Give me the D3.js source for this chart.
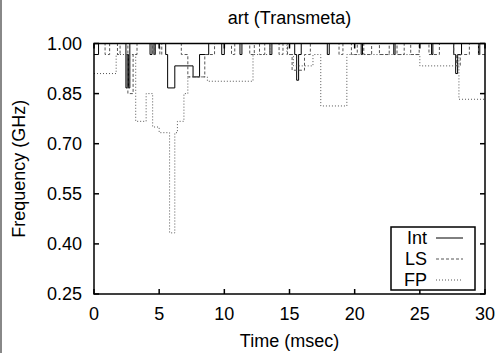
<!DOCTYPE html>
<html>
<head>
<meta charset="utf-8">
<script src="https://cdn.jsdelivr.net/npm/d3@7"></script>
<style>
  body { margin: 0; background: #fff; }
  svg { display: block; font-family: "Liberation Sans", Arial, sans-serif; }
</style>
</head>
<body>
<script>
// step data: [time (msec), frequency (GHz)]
const intSeries = [[0,0.967],[0.35,1.0],[2.45,0.867],[2.55,0.967],[2.65,0.867],[2.75,1.0],[4.3,0.967],[4.45,1.0],[4.6,0.967],[4.7,1.0],[5.5,0.967],[5.65,0.867],[6.2,0.933],[7.6,0.9],[8.1,0.967],[8.8,1.0],[9.8,0.967],[10.0,1.0],[11.2,0.967],[11.35,1.0],[13.5,0.967],[13.65,1.0],[15.4,0.967],[15.55,0.89],[15.7,0.967],[15.9,1.0],[17.9,0.967],[18.05,1.0],[20.5,0.967],[20.6,1.0],[23.0,0.967],[23.1,1.0],[25.9,0.967],[26.0,1.0],[27.6,0.967],[27.75,0.91],[27.9,0.967],[28.2,1.0],[29.5,0.967],[29.6,1.0],[30,1.0]];
const lsSeries = [[0,1.0],[0.85,0.967],[1.2,1.0],[1.8,0.967],[2.0,1.0],[2.6,0.85],[3.0,0.967],[3.3,1.0],[4.5,0.967],[4.65,1.0],[5.05,0.967],[5.2,1.0],[6.7,0.967],[7.2,0.9],[8.5,0.967],[9.25,1.0],[10.55,0.967],[10.8,1.0],[11.95,0.967],[12.3,1.0],[12.7,0.967],[13.1,1.0],[14.2,0.967],[14.5,1.0],[14.85,0.967],[15.2,0.92],[16.15,0.967],[16.6,1.0],[18.8,0.967],[19.1,1.0],[19.75,0.967],[20.2,1.0],[20.7,0.967],[21.3,1.0],[21.9,0.967],[22.65,1.0],[23.25,0.967],[23.8,1.0],[24.3,0.967],[24.95,1.0],[25.7,0.967],[26.5,1.0],[27.6,0.967],[27.8,0.933],[28.1,0.967],[28.8,1.0],[29.5,0.967],[30,0.967]];
const fpSeries = [[0,0.91],[1.7,0.967],[3.2,0.767],[4.0,0.85],[4.5,0.75],[5.0,0.733],[5.8,0.433],[6.2,0.733],[6.4,0.767],[6.9,0.85],[7.2,0.9],[8.1,0.9],[8.7,0.887],[12.2,0.967],[13.5,1.0],[14.8,0.967],[15.3,0.933],[16.8,0.967],[17.4,0.813],[19.4,0.967],[20.2,0.967],[25.0,0.933],[27.9,0.967],[28.0,0.833],[30,0.833]];

const xTicks = [0, 5, 10, 15, 20, 25, 30];
const yTicks = [0.25, 0.40, 0.55, 0.70, 0.85, 1.00];
const seriesNames = ["Int", "LS", "FP"];
const dashes = [null, "3,2", "1,2"];
const strokes = ["#000", "#555", "#555"];

const W = 496, H = 353;
const margin = {top: 43.5, right: 11, bottom: 59, left: 94};
const width = W - margin.left - margin.right;
const height = H - margin.top - margin.bottom;

const svg = d3.select("body").append("svg")
    .attr("width", W)
    .attr("height", H);

// grey edge on the left of the picture
svg.append("rect").attr("x", 0).attr("y", 0).attr("width", 2).attr("height", H).attr("fill", "#888");

const g = svg.append("g")
    .attr("transform", "translate(" + margin.left + "," + margin.top + ")");

const x = d3.scaleLinear().domain([0, 30]).range([0, width]);
const y = d3.scaleLinear().domain([0.25, 1.0]).range([height, 0]);

const line = d3.line()
    .x(d => x(d[0]))
    .y(d => y(d[1]))
    .curve(d3.curveStepAfter);

// series
[intSeries, lsSeries, fpSeries].forEach((s, i) => {
    g.append("path")
        .attr("d", line(s))
        .attr("fill", "none")
        .attr("stroke", strokes[i])
        .attr("stroke-width", 1)
        .attr("stroke-dasharray", dashes[i]);
});

// inward ticks on all four sides
const tickLen = 5;
xTicks.forEach(t => {
    g.append("line").attr("x1", x(t)).attr("x2", x(t)).attr("y1", height).attr("y2", height - tickLen)
        .attr("stroke", "#000").attr("stroke-width", 1.5);
    g.append("line").attr("x1", x(t)).attr("x2", x(t)).attr("y1", 0).attr("y2", tickLen)
        .attr("stroke", "#000").attr("stroke-width", 1.5);
    g.append("text").attr("x", x(t)).attr("y", height + 26)
        .attr("text-anchor", "middle").attr("font-size", 18).text(t);
});
yTicks.forEach(t => {
    g.append("line").attr("x1", 0).attr("x2", tickLen).attr("y1", y(t)).attr("y2", y(t))
        .attr("stroke", "#000").attr("stroke-width", 1.5);
    g.append("line").attr("x1", width).attr("x2", width - tickLen).attr("y1", y(t)).attr("y2", y(t))
        .attr("stroke", "#000").attr("stroke-width", 1.5);
    g.append("text").attr("x", -12).attr("y", y(t)).attr("dy", "0.35em")
        .attr("text-anchor", "end").attr("font-size", 18).text(d3.format(".2f")(t));
});

// frame
g.append("rect").attr("width", width).attr("height", height)
    .attr("fill", "none").attr("stroke", "#000").attr("stroke-width", 1.5);

// titles
svg.append("text").attr("x", margin.left + width / 2).attr("y", 24)
    .attr("text-anchor", "middle").attr("font-size", 18).text("art (Transmeta)");
svg.append("text").attr("x", margin.left + width / 2).attr("y", 347)
    .attr("text-anchor", "middle").attr("font-size", 18).text("Time (msec)");
svg.append("text").attr("transform", "translate(25," + (margin.top + height / 2) + ") rotate(-90)")
    .attr("text-anchor", "middle").attr("font-size", 18).text("Frequency (GHz)");

// legend
const legend = svg.append("g").attr("transform", "translate(391,227)");
legend.append("rect").attr("width", 84).attr("height", 63)
    .attr("fill", "#fff").attr("stroke", "#000").attr("stroke-width", 1.5);
seriesNames.forEach((name, i) => {
    const ly = 11 + i * 21;
    legend.append("text").attr("x", 36).attr("y", ly + 6)
        .attr("text-anchor", "end").attr("font-size", 18).text(name);
    legend.append("line").attr("x1", 45).attr("x2", 72).attr("y1", ly).attr("y2", ly)
        .attr("stroke", strokes[i]).attr("stroke-width", 1).attr("stroke-dasharray", dashes[i]);
});
</script>
</body>
</html>
